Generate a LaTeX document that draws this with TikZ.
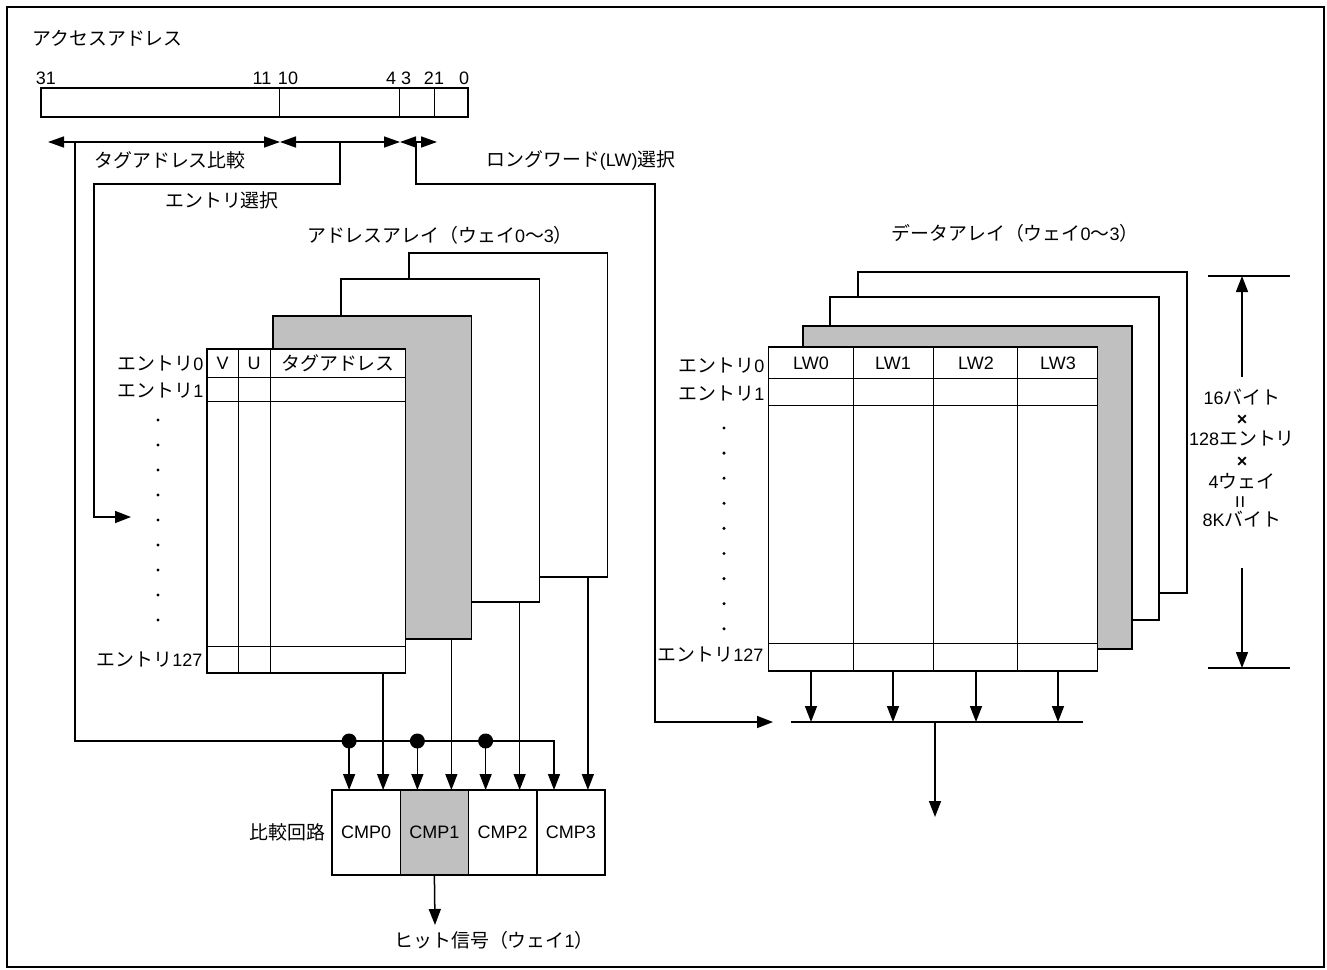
\documentclass[tikz,border=0pt]{standalone}
\usepackage{fontspec}
\setmainfont{Liberation Sans}
\newfontfamily\jp[Scale=1.05]{Noto Sans CJK JP}
\usetikzlibrary{arrows.meta, positioning}

\definecolor{waygray}{RGB}{192,192,192}

\begin{document}
\begin{tikzpicture}[
    x=1pt, y=-1pt,
    font=\fontsize{18}{21}\selectfont,
    line/.style={line width=1.5pt},
    grid/.style={line width=1pt},
    arrow/.style={line, -{Triangle[length=16pt, width=12pt]}},
    darrow/.style={line, {Triangle[length=16pt, width=11pt]}-{Triangle[length=16pt, width=11pt]}},
    way/.style={draw, line width=1.5pt, fill=white, anchor=north west, inner sep=0pt, outer sep=0pt},
    cmpbox/.style={draw, line width=1.5pt, fill=white, inner sep=0pt, outer sep=0pt, minimum width=68.25pt, minimum height=85pt},
    junction/.style={circle, fill, inner sep=0pt, minimum size=15pt},
    dot/.style={circle, fill, inner sep=0pt, minimum size=3.4pt}
]
    \useasboundingbox (0,0) rectangle (1327,969);
    \draw[line width=2pt] (7,7) rectangle (1324,967);

    % Access address
    \node[anchor=west] (title) at (29,38) {\jp アクセスアドレス};
    \node[way, minimum width=427pt, minimum height=29pt] (addr) at (41,88) {};
    \draw[grid] (279,88) -- (279,117);
    \draw[grid] (399,88) -- (399,117);
    \draw[grid] (434,88) -- (434,117);
    \node (bit31) at (46,78) {31};
    \node (bit11) at (262,78) {11};
    \node (bit10) at (288,78) {10};
    \node (bit4) at (391,78) {4};
    \node (bit3) at (406,78) {3};
    \node (bit21) at (434,78) {21};
    \node (bit0) at (464,78) {0};

    % Field ranges
    \coordinate (f31) at (48,142);
    \coordinate (f11) at (280,142);
    \coordinate (f4) at (400,142);
    \coordinate (f2) at (437,142);
    \draw[darrow] (f31) -- (f11);
    \draw[darrow] (f11) -- (f4);
    \draw[darrow] (f4) -- (f2);
    \node (tagcmp) at (170,160) {\jp タグアドレス比較};
    \node (entsel) at (222,200) {\jp エントリ選択};
    \node (lwsel) at (581,160) {{\jp ロングワード}(LW){\jp 選択}};

    % Address array
    \node (atitle) at (440,235) {{\jp アドレスアレイ（ウェイ}0{\jp 〜}3{\jp ）}};
    \node[way, minimum width=198.5pt, minimum height=324pt] (aw3) at (409,253) {};
    \node[way, minimum width=198.5pt, minimum height=323pt] (aw2) at (341,279) {};
    \node[way, fill=waygray, minimum width=198.5pt, minimum height=323pt] (aw1) at (273,316) {};
    \node[way, minimum width=198.5pt, minimum height=324pt] (aw0) at (207,349) {};
    \foreach \yy in {377,401,646}
        \draw[grid] (207,\yy) -- (405.5,\yy);
    \foreach \xx in {238,270}
        \draw[grid] (\xx,349) -- (\xx,673);
    \node (vbit) at (222.5,363) {V};
    \node (ubit) at (254,363) {U};
    \node (tagaddr) at (338,363) {\jp タグアドレス};
    \node[anchor=east] (ae0) at (207,364) {{\jp エントリ}0};
    \node[anchor=east] (ae1) at (207,391) {{\jp エントリ}1};
    \node[anchor=east] (ae127) at (206,660) {{\jp エントリ}127};
    \foreach \k in {0,...,8}
        \node[dot] (ad\k) at (158,420+25*\k) {};

    % Data array
    \node (dtitle) at (1015,233) {{\jp データアレイ（ウェイ}0{\jp 〜}3{\jp ）}};
    \node[way, minimum width=329pt, minimum height=321pt] (dw3) at (858,272) {};
    \node[way, minimum width=329pt, minimum height=323pt] (dw2) at (830,297) {};
    \node[way, fill=waygray, minimum width=329pt, minimum height=323pt] (dw1) at (803,326) {};
    \node[way, minimum width=329pt, minimum height=324pt] (dw0) at (768.5,347) {};
    \foreach \yy in {378,405,643}
        \draw[grid] (768.5,\yy) -- (1097.5,\yy);
    \foreach \xx in {853,933.6,1017.6}
        \draw[grid] (\xx,347) -- (\xx,671);
    \foreach \i/\xx in {0/811,1/893,2/976,3/1058}
        \node (lw\i) at (\xx,363) {LW\i};
    \node[anchor=east] (de0) at (768,366) {{\jp エントリ}0};
    \node[anchor=east] (de1) at (768,394) {{\jp エントリ}1};
    \node[anchor=east] (de127) at (767,655) {{\jp エントリ}127};
    \foreach \k in {0,...,8}
        \node[dot] (dd\k) at (724,428+25.1*\k) {};

    % Size
    \draw[line] (1208,276) -- (1290,276);
    \draw[line] (1208,668) -- (1290,668);
    \coordinate (dimtop) at (1242,276);
    \coordinate (dimbot) at (1242,668);
    \coordinate (dimup) at (1242,377);
    \coordinate (dimdown) at (1242,568);
    \draw[arrow] (dimup) -- (dimtop);
    \draw[arrow] (dimdown) -- (dimbot);
    \node (sz16) at (1242,397) {16{\jp バイト}};
    \node (szx1) at (1242,420) {\textbf{×}};
    \node (sz128) at (1242,439) {128{\jp エントリ}};
    \node (szx2) at (1242,462) {\textbf{×}};
    \node (sz4) at (1242,481) {4{\jp ウェイ}};
    \node[rotate=90, font=\fontsize{22}{24}\selectfont] (szeq) at (1242,502) {=};
    \node (sz8k) at (1242,519) {8K{\jp バイト}};

    % Comparators
    \node[cmpbox, anchor=north west] (cmp0) at (332,790) {CMP0};
    \node[cmpbox, fill=waygray, right=0pt of cmp0] (cmp1) {CMP1};
    \node[cmpbox, right=0pt of cmp1] (cmp2) {CMP2};
    \node[cmpbox, right=0pt of cmp2] (cmp3) {CMP3};
    \node[anchor=east] (cmplbl) at (329,832) {\jp 比較回路};
    \coordinate (hitend) at (435,925);
    \draw[arrow] (cmp1.south) -- (hitend);
    \node (hit) at (494,940) {{\jp ヒット信号（ウェイ}1{\jp ）}};

    % Tag compare lines
    \coordinate (tagtop) at (75,142);
    \coordinate (tagbus) at (554,741);
    \draw[arrow] (tagtop) |- (tagbus) -- (tagbus |- cmp3.north);
    \foreach \i in {0,1,2} {
        \node[junction] (j\i) at ([xshift=-17pt]cmp\i.north |- tagbus) {};
        \draw[arrow] (j\i.center) -- (j\i |- cmp\i.north);
    }
    \foreach \i in {0,...,3}
        \draw[arrow] ([xshift=17pt]cmp\i.north |- aw\i.south) -- ([xshift=17pt]cmp\i.north);

    % Entry select
    \coordinate (enttop) at (340,142);
    \coordinate (entptr) at (131,517);
    \draw[arrow] (enttop) -- (340,184) -| (94,517) -- (entptr);

    % Long word select
    \coordinate (lwtop) at (416,142);
    \coordinate (lwptr) at (773,722);
    \draw[arrow] (lwtop) -- (416,184) -| (655,722) -- (lwptr);

    % Data out
    \coordinate (busl) at (791,722);
    \coordinate (busr) at (1083,722);
    \draw[line] (busl) -- (busr);
    \foreach \i in {0,...,3}
        \draw[arrow] (lw\i |- dw0.south) -- (lw\i |- busl);
    \coordinate (busout) at (935,722);
    \coordinate (dataout) at (935,817);
    \draw[arrow] (busout) -- (dataout);
\end{tikzpicture}
\end{document}
